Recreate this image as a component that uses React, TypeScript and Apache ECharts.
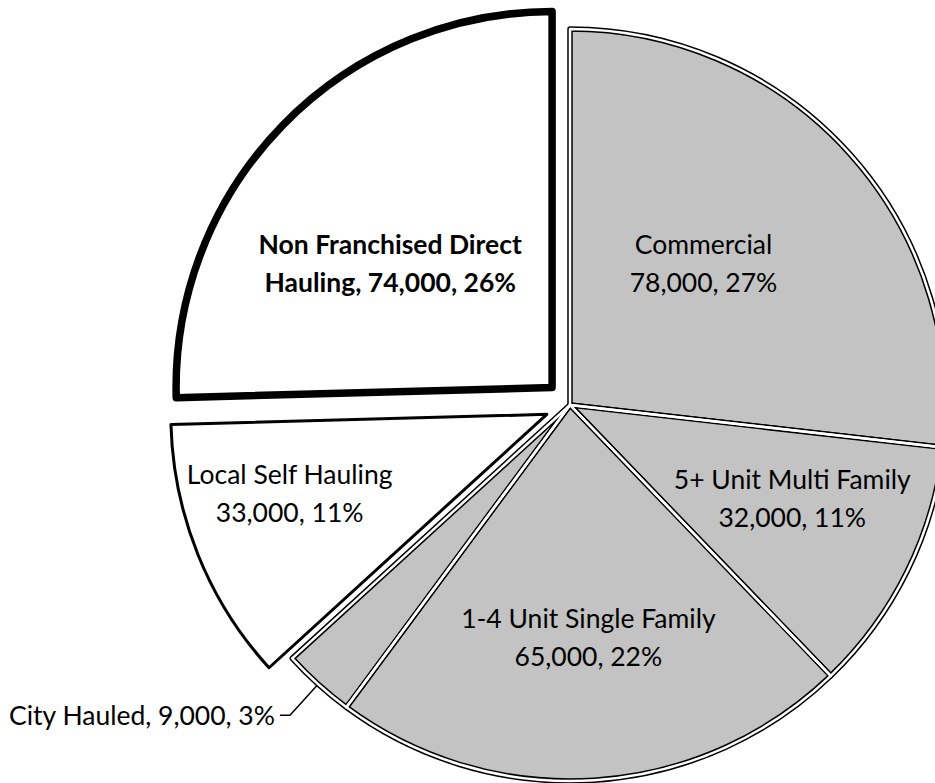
import React, { useEffect, useRef } from "react";
import * as echarts from "echarts";

const categories = [
  "Commercial",
  "5+ Unit Multi Family",
  "1-4 Unit Single Family",
  "City Hauled",
  "Local Self Hauling",
  "Non Franchised Direct Hauling",
];
const values = [78000, 32000, 65000, 9000, 33000, 74000];
const percents = [27, 11, 22, 3, 11, 26];
const shaded = [true, true, true, true, false, false];
const exploded = [false, false, false, false, true, true];

const GRAY = "#c3c3c3";
const labelShift: Array<[number, number] | null> = [
  [-9, -15],
  [51, 8],
  [6, 41],
  null,
  [-80, 7],
  [-25, 9],
];

const fmt = (v: number) => String(v).replace(/\B(?=(\d{3})+(?!\d))/g, ",");

function labelText(i: number) {
  const vp = `${fmt(values[i])}, ${percents[i]}%`;
  if (i === 3) return `${categories[i]}, ${vp}`;
  if (i === 5) return `Non Franchised Direct\nHauling, ${vp}`;
  return `${categories[i]}\n${vp}`;
}

export default function App() {
  const ref = useRef<HTMLDivElement>(null);
  useEffect(() => {
    if (!ref.current) return;
    const chart = echarts.init(ref.current, null, { renderer: "svg" });
    const center = [570, 405];
    const radius = 376;
    const base = categories.map((name, i) => ({
      name,
      value: values[i],
      selected: exploded[i],
      itemStyle: {
        color: shaded[i] ? GRAY : "#ffffff",
        borderColor: "#000",
        borderWidth: i === 5 ? 7.5 : shaded[i] ? 5.5 : 3,
      },
      label:
        i === 3
          ? { position: "outside" as const, padding: [0, 0, 12, 0] }
          : { position: "inside" as const, fontWeight: i === 5 ? ("bold" as const) : ("normal" as const) },
      labelLine: i === 3 ? { show: true, length: 42, length2: 10 } : { show: false },
    }));
    const overlay = categories.map((name, i) => ({
      name,
      value: values[i],
      selected: exploded[i],
      itemStyle: {
        color: "rgba(0,0,0,0)",
        borderColor: "#ffffff",
        borderWidth: shaded[i] ? 2.5 : 0,
      },
    }));
    chart.setOption({
      animation: false,
      backgroundColor: "#ffffff",
      series: [
        {
          type: "pie",
          center,
          radius,
          startAngle: 90,
          clockwise: true,
          selectedMode: "multiple",
          selectedOffset: 25,
          avoidLabelOverlap: false,
          emphasis: { disabled: true },
          data: base,
          label: {
            show: true,
            formatter: (p: any) => labelText(p.dataIndex),
            color: "#000",
            fontFamily: "Lato",
            fontSize: 26.5,
            lineHeight: 38,
            align: "center",
          },
          labelLine: { lineStyle: { color: "#000", width: 1.5 } },
          labelLayout: (p: any) => {
            const s = labelShift[p.dataIndex];
            return s ? { dx: s[0], dy: s[1] } : {};
          },
        },
        {
          type: "pie",
          center,
          radius,
          startAngle: 90,
          clockwise: true,
          selectedMode: "multiple",
          selectedOffset: 25,
          silent: true,
          emphasis: { disabled: true },
          label: { show: false },
          labelLine: { show: false },
          data: overlay,
        },
      ],
    });
    return () => chart.dispose();
  }, []);
  return (
    <div
      ref={ref}
      style={{ position: "fixed", left: 0, top: 0, width: 935, height: 783 }}
    />
  );
}
